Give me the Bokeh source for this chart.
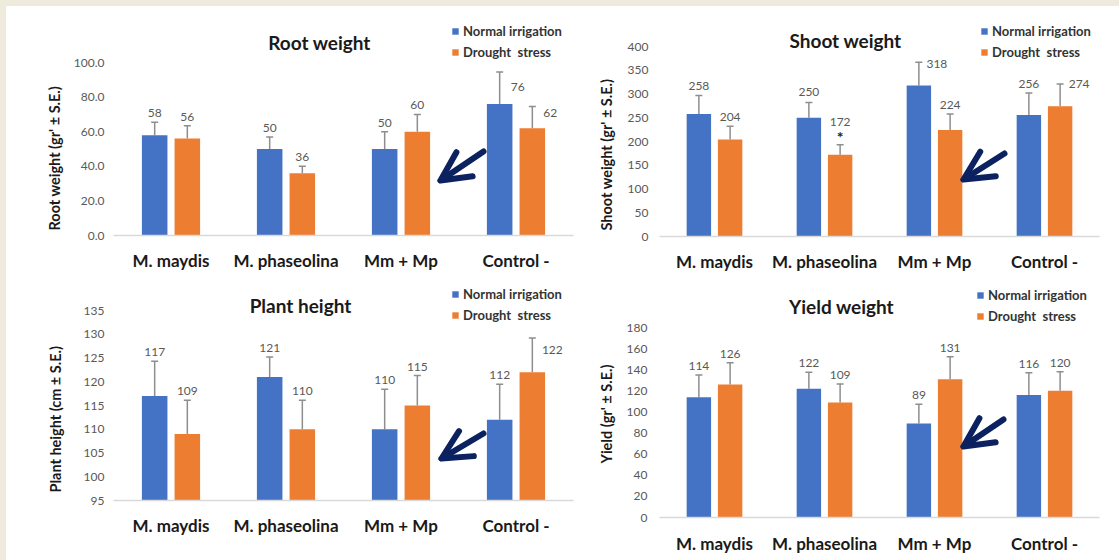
from bokeh.plotting import figure
from bokeh.models import (ColumnDataSource, FactorRange, Range1d, Whisker, TeeHead, Arrow,
                          OpenHead, Label, Legend, LegendItem, FixedTicker,
                          NumeralTickFormatter, Spacer, Title)
from bokeh.layouts import row, column
from bokeh.transform import dodge
from bokeh.core.properties import value
from bokeh.embed import file_html
from bokeh.resources import INLINE

# ---------------------------------------------------------------- data
categories = ["M. maydis", "M. phaseolina", "Mm + Mp", "Control -"]
series = ["Normal irrigation", "Drought  stress"]

root_normal = [58, 50, 50, 76]
root_normal_se = [7.5, 7, 10, 18.5]
root_drought = [56, 36, 60, 62]
root_drought_se = [7.5, 4, 10, 12.5]
root_ticks = [0, 20, 40, 60, 80, 100]

shoot_normal = [258, 250, 318, 256]
shoot_normal_se = [39, 32, 49, 46]
shoot_drought = [204, 172, 224, 274]
shoot_drought_se = [28, 21, 34, 47]
shoot_drought_mark = ["", "*", "", ""]
shoot_ticks = [0, 50, 100, 150, 200, 250, 300, 350, 400]

height_normal = [117, 121, 110, 112]
height_normal_se = [7.3, 4.2, 8.4, 7.5]
height_drought = [109, 110, 115, 122]
height_drought_se = [7.1, 6.1, 6.3, 7.2]
height_ticks = [95, 100, 105, 110, 115, 120, 125, 130, 135]

yield_normal = [114, 122, 89, 116]
yield_normal_se = [21, 15.5, 18.4, 21.2]
yield_drought = [126, 109, 131, 120]
yield_drought_se = [20.7, 17.4, 21.4, 18.1]
yield_ticks = [0, 20, 40, 60, 80, 100, 120, 140, 160, 180]

# ---------------------------------------------------------------- style
BLUE = "#4472C4"
ORANGE = "#ED7D31"
ERR = "#8e8e8e"
NAVY = "#0b2160"
BEIGE = "#eeeadc"
TICK_GREY = "#595959"
FONT = "Lato"
BAR_W = 0.222
OFF = 0.142

# page-pixel geometry of every chart: figure box, value area (top of the
# highest tick to the category axis), title centre, legend (glyph left,
# first row centre), arrow start/end, side-title placement and per-label
# nudges (dx, dy in px)
panels = [
    dict(title="Root weight", ylabel="Root weight (gr' \u00b1 S.E.)",
         normal=root_normal, normal_se=root_normal_se,
         drought=root_drought, drought_se=root_drought_se,
         ticks=root_ticks, fmt="0.0",
         fig=(6, 6, 576, 274), frame=(113, 62, 460, 173),
         title_at=(319, 42), legend_at=(451, 32),
         arrow=((483, 151), (440, 180)),
         tick_standoff=9, ylab_lift=5, ylab_pad=13, cat_standoff=14,
         nudge={(3, 0): (18, 15), (3, 1): (18, 6)}),
    dict(title="Shoot weight", ylabel="Shoot weight (gr' \u00b1 S.E.)",
         normal=shoot_normal, normal_se=shoot_normal_se,
         drought=shoot_drought, drought_se=shoot_drought_se,
         mark=shoot_drought_mark,
         ticks=shoot_ticks, fmt="0",
         fig=(582, 6, 537, 274), frame=(659, 46, 440, 190),
         title_at=(845, 40), legend_at=(980, 32),
         arrow=((1004, 153), (963, 179)),
         tick_standoff=11, ylab_lift=6, ylab_pad=18, cat_standoff=14,
         nudge={(2, 0): (18, 2), (3, 1): (19, 0), (1, 1): (0, -23), (1, 0): (0, -11)}),
    dict(title="Plant height", ylabel="Plant height  (cm \u00b1 S.E.)",
         normal=height_normal, normal_se=height_normal_se,
         drought=height_drought, drought_se=height_drought_se,
         ticks=height_ticks, fmt="0",
         fig=(6, 280, 576, 280), frame=(113, 310, 460, 190),
         title_at=(300, 305), legend_at=(451, 295),
         arrow=((483, 433), (441, 458)),
         tick_standoff=9, ylab_lift=8, ylab_pad=31, cat_standoff=14,
         nudge={(3, 1): (20, 12)}),
    dict(title="Yield weight", ylabel="Yield (gr' \u00b1 S.E.)",
         normal=yield_normal, normal_se=yield_normal_se,
         drought=yield_drought, drought_se=yield_drought_se,
         ticks=yield_ticks, fmt="0",
         fig=(582, 280, 537, 280), frame=(659, 327, 440, 190),
         title_at=(841, 306), legend_at=(976, 296),
         arrow=((1003, 419), (963, 446)),
         tick_standoff=12, ylab_lift=54, ylab_pad=16, cat_standoff=15,
         nudge={}),
]

LEG_PITCH = 20
LEG_ROW = 15


def to_x(s, px):
    lx, _, w, _ = s["frame"]
    return (px - lx) / w * len(categories)


def to_y(s, py):
    _, ty, _, h = s["frame"]
    y0, y1 = s["ticks"][0], s["ticks"][-1]
    return y1 - (py - ty) / h * (y1 - y0)


def make_panel(s):
    fx, fy, fw, fh = s["fig"]
    lx, ty, w, h = s["frame"]
    y0 = s["ticks"][0]
    # the plot frame reaches the top of the figure so that the title,
    # legend and arrow sit inside it; the ticks stop at the last value
    y_top = to_y(s, fy)
    p = figure(width=fw, height=fh,
               x_range=FactorRange(*categories, range_padding=0, factor_padding=0),
               y_range=Range1d(y0, y_top),
               output_backend="svg", toolbar_location=None,
               min_border_left=lx - fx, min_border_right=fx + fw - (lx + w),
               min_border_top=0, min_border_bottom=fy + fh - (ty + h))
    p.outline_line_color = None
    p.background_fill_color = "white"
    p.border_fill_color = "white"
    p.xgrid.visible = False
    p.ygrid.visible = False

    n_hi = [v + e for v, e in zip(s["normal"], s["normal_se"])]
    d_hi = [v + e for v, e in zip(s["drought"], s["drought_se"])]
    n_dx, n_dy, d_dx, d_dy = [], [], [], []
    for i in range(len(categories)):
        a = s["nudge"].get((i, 0), (0, -9))
        b = s["nudge"].get((i, 1), (0, -9))
        n_dx.append(a[0]); n_dy.append(a[1])
        d_dx.append(b[0]); d_dy.append(b[1])
    src = ColumnDataSource(dict(
        cat=categories,
        normal=s["normal"], normal_hi=n_hi, normal_lab=[str(v) for v in s["normal"]],
        drought=s["drought"], drought_hi=d_hi, drought_lab=[str(v) for v in s["drought"]],
        n_dx=n_dx, n_dy=n_dy, d_dx=d_dx, d_dy=d_dy,
        mark=s.get("mark", [""] * len(categories)),
    ))

    xn = dodge("cat", -OFF, range=p.x_range)
    xd = dodge("cat", OFF, range=p.x_range)
    rn = p.vbar(x=xn, top="normal", bottom=y0, width=BAR_W, source=src,
                fill_color=BLUE, line_color=None)
    rd = p.vbar(x=xd, top="drought", bottom=y0, width=BAR_W, source=src,
                fill_color=ORANGE, line_color=None)

    for base, lo, hi in ((xn, "normal", "normal_hi"), (xd, "drought", "drought_hi")):
        p.add_layout(Whisker(source=src, base=base, lower=lo, upper=hi,
                             line_color=ERR, line_width=1.5,
                             upper_head=TeeHead(size=7, line_color=ERR, line_width=1.5),
                             lower_head=None))

    for base, y, t, dx, dy in ((xn, "normal_hi", "normal_lab", "n_dx", "n_dy"),
                               (xd, "drought_hi", "drought_lab", "d_dx", "d_dy")):
        p.text(x=base, y=y, text=t, x_offset=dx, y_offset=dy, source=src,
               text_font=value(FONT), text_font_size="12px", text_color=TICK_GREY,
               text_align="center", text_baseline="middle")
    p.text(x=xd, y="drought_hi", text="mark", y_offset=-8, source=src,
           text_font=value(FONT), text_font_size="16px", text_font_style="bold",
           text_color="#222222", text_align="center", text_baseline="middle")

    # axes
    ya = p.yaxis[0]
    ya.ticker = FixedTicker(ticks=s["ticks"])
    ya.formatter = NumeralTickFormatter(format=s["fmt"])
    ya.axis_line_color = None
    ya.major_tick_line_color = None
    ya.minor_tick_line_color = None
    ya.major_tick_out = 0
    ya.major_label_standoff = s["tick_standoff"]
    ya.major_label_text_font = FONT
    ya.major_label_text_font_size = "12px"
    ya.major_label_text_color = TICK_GREY

    # value-axis caption, set on the left beside the tick labels
    p.add_layout(Title(text=s["ylabel"], align="left", vertical_align="middle",
                       offset=s["ylab_lift"], standoff=s["ylab_pad"],
                       text_font=FONT, text_font_size="14.5px", text_font_style="bold",
                       text_color="#1a1a1a"), "left")

    xa = p.xaxis[0]
    xa.axis_line_color = "#d9d9d9"
    xa.axis_line_width = 1.5
    xa.major_tick_line_color = None
    xa.minor_tick_line_color = None
    xa.major_tick_out = 0
    xa.major_label_standoff = s["cat_standoff"]
    xa.major_label_text_font = FONT
    xa.major_label_text_font_size = "17px"
    xa.major_label_text_font_style = "bold"
    xa.major_label_text_color = "#1a1a1a"

    # chart title
    tx, tyy = s["title_at"]
    p.add_layout(Label(x=to_x(s, tx), y=to_y(s, tyy), text=s["title"],
                       text_align="center", text_baseline="middle",
                       text_font=FONT, text_font_size="19px", text_font_style="bold",
                       text_color="#1a1a1a"))

    # legend at the top right
    gx, gy = s["legend_at"]
    bottom = gy + LEG_PITCH + LEG_ROW / 2
    legend = Legend(items=[LegendItem(label=series[0], renderers=[rn]),
                           LegendItem(label=series[1], renderers=[rd])],
                    location=(gx - lx, ty + h - bottom),
                    glyph_width=8, glyph_height=8, label_height=8,
                    spacing=LEG_PITCH - LEG_ROW,
                    label_standoff=4, padding=0, margin=0,
                    border_line_color=None, background_fill_alpha=0,
                    label_text_font=FONT, label_text_font_size="13px",
                    label_text_font_style="bold", label_text_color="#333333")
    p.add_layout(legend, "center")

    # arrow pointing at the combined-infection drought bar
    (sx, sy), (ex, ey) = s["arrow"]
    p.add_layout(Arrow(x_start=to_x(s, sx), y_start=to_y(s, sy),
                       x_end=to_x(s, ex), y_end=to_y(s, ey),
                       line_color=NAVY, line_width=6, line_cap="round",
                       end=OpenHead(size=29, line_color=NAVY, line_width=6,
                                    line_cap="round", line_join="round")))
    return p


figs = [make_panel(s) for s in panels]

left_strip = Spacer(width=6, height=560, styles={"background-color": BEIGE})
top_left = Spacer(width=576, height=6, styles={"background-color": BEIGE})
top_right = Spacer(width=537, height=6, styles={"background-color": BEIGE})
layout = row(left_strip,
             column(top_left, figs[0], figs[2]),
             column(top_right, figs[1], figs[3]))

open("out.html", "w").write(file_html(layout, INLINE))
